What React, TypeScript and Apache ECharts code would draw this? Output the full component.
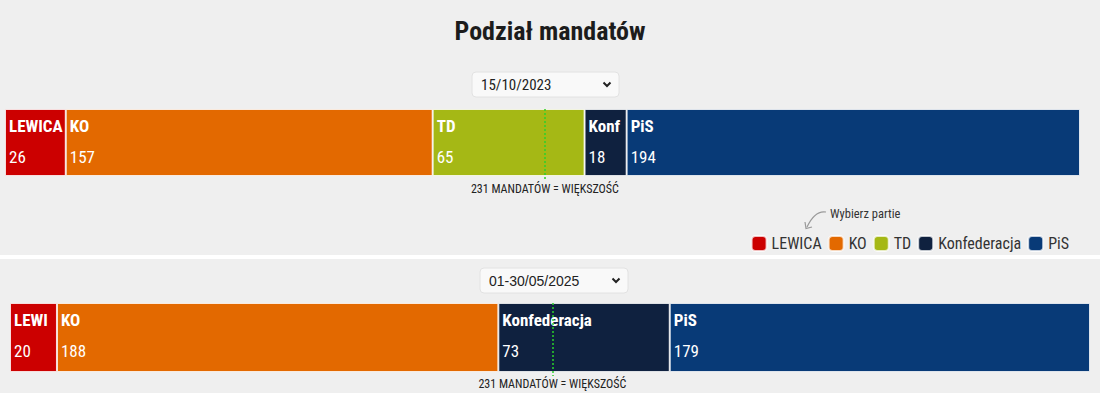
import React, { useEffect, useRef } from 'react';
import * as echarts from 'echarts';

const parties = ['LEWICA', 'KO', 'TD', 'Konfederacja', 'PiS'];
const partyColors = ['#cc0000', '#e36900', '#a5b815', '#0f213f', '#083a77'];
const periods = ['15/10/2023', '01-30/05/2025'];
const seats2023 = [26, 157, 65, 18, 194];
const seats2025 = [20, 188, 0, 73, 179];
const totalSeats = 460;
const majoritySeats = 231;
const majorityLabel = '231 MANDATÓW = WIĘKSZOŚĆ';
const titleText = 'Podział mandatów';
const hintText = 'Wybierz partie';

const W = 1100;
const H = 393;
const FONT =
  "'Roboto Condensed','Liberation Sans Narrow','DejaVu Sans Condensed','Open Sans Condensed',Roboto,sans-serif";

const layout = [
  { left: 5, right: 20, top: 109, height: 67, lineTop: 109, lineBottom: 181, selX: 472, selY: 72, selW: 147, selH: 25 },
  { left: 10, right: 10, top: 303, height: 69, lineTop: 303, lineBottom: 376, selX: 480, selY: 268, selW: 148, selH: 25 },
];

export default function App() {
  const ref = useRef<HTMLDivElement>(null);

  useEffect(() => {
    if (!ref.current) return;
    const chart = echarts.init(ref.current, undefined, { renderer: 'svg' });
    const seatSets = [seats2023, seats2025];
    const series: any[] = [];

    seatSets.forEach((seats, gi) => {
      const g = layout[gi];
      const pxPerSeat = (W - g.left - g.right) / totalSeats;
      let first = true;
      parties.forEach((p, pi) => {
        const v = seats[pi];
        if (!v) return;
        const s: any = {
          type: 'bar',
          name: p,
          xAxisIndex: gi,
          yAxisIndex: gi,
          stack: 'seats' + gi,
          barWidth: '100%',
          data: [v],
          itemStyle: {
            color: partyColors[pi],
            borderColor: 'rgba(255,255,255,0.75)',
            borderWidth: 1,
          },
          emphasis: { disabled: true },
          label: {
            show: true,
            position: 'insideTopLeft',
            distance: 0,
            formatter: `{n|${p}}\n{v|${v}}`,
            width: Math.max(v * pxPerSeat - 6, 4),
            overflow: 'truncate',
            ellipsis: '',
            padding: [1, 0, 0, 4],
            rich: {
              n: { fontFamily: FONT, fontSize: 17, fontWeight: 'bold', color: '#fff', lineHeight: 31 },
              v: { fontFamily: FONT, fontSize: 17, color: '#fff', lineHeight: 31 },
            },
          },
        };
        if (first) {
          s.markLine = {
            silent: true,
            symbol: 'none',
            lineStyle: { color: '#2bd12b', type: [2, 2], width: 1.5 },
            label: {
              show: true,
              position: 'end',
              distance: 2,
              formatter: majorityLabel,
              fontFamily: FONT,
              fontSize: 12,
              color: '#222',
            },
            data: [[{ xAxis: majoritySeats, y: g.lineTop }, { xAxis: majoritySeats, y: g.lineBottom }]],
          };
          first = false;
        }
        series.push(s);
      });
    });

    const graphic: any[] = [
      { type: 'rect', shape: { x: 0, y: 255, width: W, height: 4 }, style: { fill: '#ffffff' }, silent: true },
    ];
    layout.forEach((g, gi) => {
      graphic.push({
        type: 'rect',
        shape: { x: g.selX, y: g.selY, width: g.selW, height: g.selH, r: 4 },
        style: { fill: '#f9f9f9', stroke: '#e2e2e2', lineWidth: 1 },
        silent: true,
      });
      graphic.push({
        type: 'text',
        x: g.selX + 9,
        y: g.selY + g.selH / 2,
        style: {
          text: periods[gi],
          font: gi === 0 ? `15px ${FONT}` : '14px Arial, "Liberation Sans", sans-serif',
          fill: '#222',
          verticalAlign: 'middle',
        },
        silent: true,
      });
      const cx = g.selX + g.selW - 12;
      const cy = g.selY + g.selH / 2;
      graphic.push({
        type: 'polyline',
        shape: { points: [[cx - 3.5, cy - 2], [cx, cy + 1.5], [cx + 3.5, cy - 2]] },
        style: { stroke: '#222', lineWidth: 2, fill: 'none' },
        silent: true,
      });
    });
    graphic.push({
      type: 'text',
      x: 830,
      y: 213,
      style: { text: hintText, font: `12.5px ${FONT}`, fill: '#333', verticalAlign: 'middle' },
      silent: true,
    });
    graphic.push({
      type: 'bezierCurve',
      shape: { x1: 826, y1: 212, x2: 807, y2: 227, cpx1: 815, cpy1: 210 },
      style: { stroke: '#999', lineWidth: 1.2, fill: 'none' },
      silent: true,
    });
    graphic.push({
      type: 'polyline',
      shape: { points: [[805, 222], [806, 228.5], [812, 227]] },
      style: { stroke: '#999', lineWidth: 1.2, fill: 'none' },
      silent: true,
    });

    chart.setOption({
      animation: false,
      backgroundColor: '#efefef',
      title: {
        text: titleText,
        left: 'center',
        top: 13,
        textStyle: { fontFamily: FONT, fontSize: 26, fontWeight: 'bold', color: '#1c1c1c' },
      },
      legend: {
        data: parties,
        right: 26,
        top: 230,
        itemWidth: 15,
        itemHeight: 15,
        itemGap: 6,
        icon: 'roundRect',
        textStyle: { fontFamily: FONT, fontSize: 16, color: '#333' },
      },
      tooltip: { show: false },
      grid: layout.map((g) => ({ left: g.left, right: g.right, top: g.top, height: g.height, containLabel: false })),
      xAxis: layout.map((_, i) => ({
        type: 'value',
        gridIndex: i,
        min: 0,
        max: totalSeats,
        show: false,
      })),
      yAxis: layout.map((_, i) => ({
        type: 'category',
        gridIndex: i,
        data: [periods[i]],
        show: false,
      })),
      series,
      graphic,
    });

    return () => chart.dispose();
  }, []);

  return (
    <div
      ref={ref}
      style={{ position: 'absolute', left: 0, top: 0, width: W, height: H }}
    />
  );
}
